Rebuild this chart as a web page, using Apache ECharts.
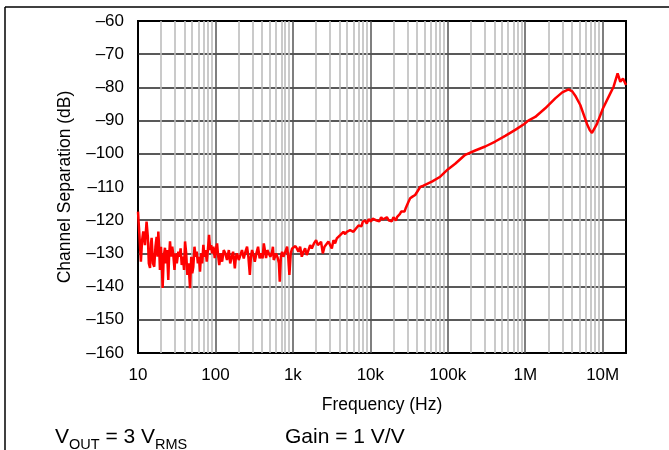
<!DOCTYPE html>
<html><head><meta charset="utf-8">
<script src="https://cdn.jsdelivr.net/npm/echarts@6/dist/echarts.min.js"></script>
<style>html,body{margin:0;padding:0;background:#fff}#c{width:669px;height:450px}</style>
</head><body><div id="c"></div>
<script>
// ---- data ----
const freqHz = [
10,10.4,10.9,11.3,11.7,12.3,12.9,13.4,13.8,14.3,14.7,15.0,15.6,16.2,16.8,17.4,17.9,18.3,18.8,19.2,19.8,20.3,20.8,21.5,22.3,23.0,23.7,24.6,25.2,25.9,26.8,27.7,28.6,29.6,30.6,31.7,33.2,34.5,35.5,36.7,38.0,39.3,40.5,41.9,43.4,45.0,47.0,48.7,50.2,51.8,53.6,55.5,57.3,59.3,61.3,63.2,65.3,67.5,69.8,72.2,74.7,77.2,79.8,82.7,85.5,88,90.4,94,98,
101,105,108,112,117,122,128,134,141,149,155,161,169,178,184,190,200,210,220,232,244,256,266,278,287,297,309,322,338,355,372,392,406,421,435,450,468,488,512,539,552,566,586,607,640,660,677,700,725,755,786,812,842,870,901,938,977,
1030,1078,1125,1178,1240,1303,1370,1438,1510,1586,1670,1755,1870,1994,2100,2200,2310,2434,2560,2685,2876,3030,3182,3340,3509,3690,3871,4080,4283,4492,4730,4970,5220,5483,5760,6049,6370,6692,7030,7383,7700,8000,8567,9000,9500,
10200,10700,11200,11800,12500,13100,13790,14500,15210,16340,17200,18020,18900,19880,20600,21360,22200,23070,24000,25000,26300,27580,28500,29620,31000,32670,35000,37920,44000,48530,62320,79800,
100000,124600,167800,226000,304200,409700,551500,742600,971000,1094000,1347000,1813000,2441000,3006000,3626000,4047000,4426000,5137000,6270000,6800000,7275000,8440000,10100000,12540000,13830000,15580000,16880000,18290000,20000000];
const sepDb = [
-117.4,-124,-132.5,-126,-123.4,-127.5,-120.4,-125,-133,-134.4,-127,-125.3,-133,-134,-128,-125,-131,-123.4,-129,-135,-128,-133,-140.4,-131,-128.3,-133,-129,-138,-131,-126.4,-131,-128,-130.5,-135,-130,-133,-129.5,-131,-128.5,-133.5,-131,-135,-126.4,-130,-136.5,-133,-140.5,-131,-136,-134,-128,-131,-129.5,-133,-131,-135.5,-130,-133,-127.4,-131,-129,-132.5,-129,-124.4,-129,-127.5,-130,-128,-131.4,
-129,-127,-130.5,-133.5,-130,-132.5,-129,-130,-132,-129,-133,-131.4,-129.5,-134.5,-131,-130,-132,-130.5,-129,-131.5,-129.5,-128,-131,-136.5,-131,-129,-130.5,-132.5,-130,-128,-131.5,-130,-131.5,-127,-129,-131.4,-129,-130,-131,-129.5,-128,-132,-131,-130,-131.5,-133,-138.5,-131,-129.5,-131,-130,-129,-128,-131,-136.5,-130,-128.5,
-129,-127.8,-128.5,-129.5,-128,-131,-129.5,-128.5,-130.5,-130,-127.5,-128.5,-127,-126,-127.5,-128,-126.5,-130,-128,-127.4,-126.4,-127.5,-128.5,-126,-127,-125.5,-125,-124.5,-124,-123.5,-124.2,-123.5,-123.8,-123,-122.5,-123.5,-122.8,-122.4,-121.6,-121.4,-121.8,-120.4,-120.1,-121,-119.7,
-120.4,-119.5,-119.1,-120,-119.7,-120.3,-119.1,-119.8,-120.1,-119.1,-120,-119.7,-120.3,-119.1,-119.6,-120.1,-119,-118.4,-118.2,-117.4,-117.8,-117.4,-116.5,-115.9,-114.5,-113.4,-112.9,-112.4,-110,-109.6,-108.4,-106.9,
-104.7,-103,-100.3,-99,-97.8,-96.3,-94.6,-92.8,-91,-90,-88.9,-86.3,-83.3,-81.5,-80.6,-81.2,-82.5,-85.3,-91,-92.8,-93.7,-91,-86.3,-81.8,-79.8,-75.8,-78.3,-77.3,-79.3];
const xTickLabels = ['10','100','1k','10k','100k','1M','10M'];
const xMinHz = 10, xMaxHz = 20000000;
const yMin = -160, yMax = -60, yStep = 10;
const minorMultipliers = [2,3,4,5,6,7,8,9];

// ---- build ----
const minorLines = [];
for (let d = 0; d < xTickLabels.length; d++) {
  const base = xMinHz * Math.pow(10, d);
  minorMultipliers.forEach(m => { const f = base * m; if (f < xMaxHz) minorLines.push({xAxis: Math.log10(f)}); });
}
const seriesData = freqHz.map((f, i) => [Math.log10(f), sepDb[i]]);
const font = '"Liberation Sans", Arial, sans-serif';
const minus = s => String(s).replace('-', '\u2013');

const chart = echarts.init(document.getElementById('c'), null, {renderer: 'canvas'});
chart.setOption({
  animation: false,
  backgroundColor: '#fff',
  grid: {left: 138, right: 43, top: 21, bottom: 97, show: true, borderColor: '#000', borderWidth: 2, backgroundColor: 'transparent'},
  xAxis: {
    type: 'value', min: Math.log10(xMinHz), max: Math.log10(xMaxHz), interval: 1,
    name: 'Frequency (Hz)', nameLocation: 'middle', nameGap: 43,
    nameTextStyle: {fontFamily: font, fontSize: 17.5, color: '#000'},
    axisLine: {show: false}, axisTick: {show: false},
    axisLabel: {showMaxLabel: false, margin: 14, fontFamily: font, fontSize: 17, color: '#000',
      formatter: v => xTickLabels[Math.round(v - Math.log10(xMinHz))] || ''},
    splitLine: {show: true, showMinLine: false, showMaxLine: false, lineStyle: {color: '#555', width: 1.5}}
  },
  yAxis: {
    type: 'value', min: yMin, max: yMax, interval: yStep,
    name: 'Channel Separation (dB)', nameLocation: 'middle', nameGap: 64, nameRotate: 90,
    nameTextStyle: {fontFamily: font, fontSize: 17.5, color: '#000'},
    axisLine: {show: false}, axisTick: {show: false},
    axisLabel: {margin: 14, fontFamily: font, fontSize: 17, color: '#000', formatter: v => minus(v)},
    splitLine: {show: true, showMinLine: false, showMaxLine: false, lineStyle: {color: '#222', width: 1.5}}
  },
  series: [
    {type: 'line', data: [], silent: true, z: 1,
     markLine: {silent: true, symbol: ['none', 'none'], label: {show: false}, animation: false,
       lineStyle: {color: '#bdbdbd', width: 1.6, type: 'solid'}, data: minorLines}},
    {type: 'line', data: seriesData, showSymbol: false, symbol: 'none', z: 5,
     lineStyle: {color: '#ff0000', width: 2.5}, clip: true}
  ],
  graphic: [
    {type: 'line', shape: {x1: 5, y1: 7, x2: 669, y2: 7}, style: {stroke: '#000', lineWidth: 1.5}},
    {type: 'line', shape: {x1: 5, y1: 7, x2: 5, y2: 450}, style: {stroke: '#000', lineWidth: 1.5}},
    {type: 'text', left: 55, top: 427, style: {
      text: '{a|V}{s|OUT}{a| = 3 V}{s|RMS}', fontFamily: font,
      rich: {a: {fontSize: 21, fontFamily: font, fill: '#000', lineHeight: 26, verticalAlign: 'bottom'},
             s: {fontSize: 14.5, fontFamily: font, fill: '#000', lineHeight: 26, verticalAlign: 'bottom', padding: [0,0,-4,0]}}}},
    {type: 'text', left: 285, top: 427, style: {
      text: 'Gain = 1 V/V', fontFamily: font, fontSize: 21, fill: '#000'}}
  ]
});
</script></body></html>
